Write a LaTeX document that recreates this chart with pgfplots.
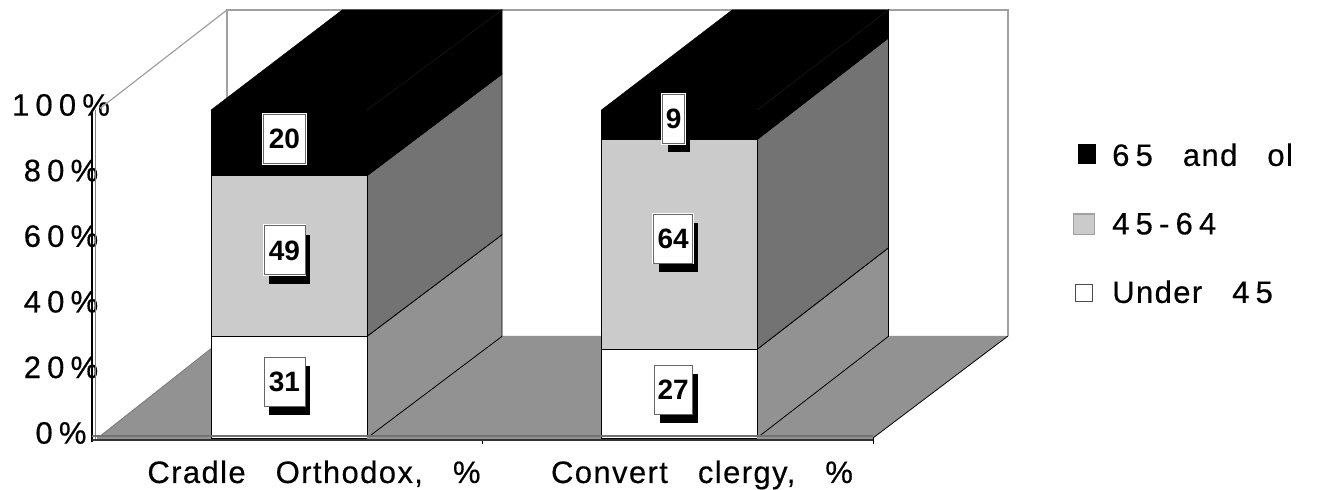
\documentclass[border=0pt]{standalone}
\usepackage{fontspec}
\usepackage{pgfplots}
\pgfplotsset{compat=1.18}
\usetikzlibrary{shadows}
\setmainfont{Liberation Sans}
% Wide tracking for figures, light tracking for words
\newfontfamily\digitfont[LetterSpace=20,FakeBold=0.4]{Liberation Sans}
\newfontfamily\wordfont[LetterSpace=4.5,FakeBold=0.4]{Liberation Sans}
\newcommand{\gap}{\hspace{15pt}}
\definecolor{floorgray}{HTML}{929292}
\definecolor{darkside}{HTML}{737373}
\definecolor{midgray}{HTML}{CBCBCB}
\definecolor{wallgray}{HTML}{A0A0A0}
\begin{document}
\begin{tikzpicture}
\path[use as bounding box] (-48.5pt,-26pt) rectangle ++(659.5pt,245pt);
\begin{axis}[
  scale only axis, width=388pt, height=164pt,
  xmin=0, xmax=2, ymin=0, ymax=100,
  clip=false,
  axis line style={draw=none},
  xtick pos=bottom, ytick pos=left, tick align=outside,
  xtick={0.5,1.5},
  xticklabels={{\wordfont Cradle\gap Orthodox,\gap\%},{\wordfont Convert\gap clergy,\gap\%}},
  minor xtick={-0.013,0.993,2},
  minor tick length=3pt,
  minor x tick style={black,line width=0.4pt},
  major x tick style={draw=none},
  major tick length=0pt,
  ytick={0,20,40,60,80,100},
  yticklabels={0\%,20\%,40\%,60\%,80\%,100\%},
  ytick style={draw=none},
  xticklabel style={font=\fontsize{15.5}{17}\selectfont, anchor=base, xshift=11.5pt, yshift=-22.5pt},
  yticklabel style={font=\fontsize{15.5}{17}\selectfont\digitfont, anchor=center, xshift=-18pt, yshift=2.5pt},
  legend style={at={(axis cs:2.515,89.6)}, anchor=north west, draw=none, fill=none,
    row sep=23.75pt, font=\fontsize{15.5}{17}\selectfont, inner sep=0pt,
    nodes={inner sep=0pt, text height=10pt, text depth=0pt}},
  legend cell align=left,
]
% Floor and back wall
\addplot[forget plot, fill=floorgray, draw=none] coordinates {(0,0) (0.335,31.1) (2.348,31.1) (2,0)} -- cycle;
\addplot[forget plot, draw=black, line width=0.4pt] coordinates {(2,0) (2.348,31.1)};
\addplot[forget plot, draw=gray, line width=0.4pt] coordinates {(0.008,0.5) (0.335,31.1)};
\addplot[forget plot, draw=wallgray, line width=0.6pt] coordinates {(0.335,31.1) (0.335,130.5) (2.348,130.5) (2.348,31.1)};
\addplot[forget plot, draw=wallgray, line width=0.6pt] coordinates {(0.008,100.5) (0.335,130.5)};
% Vertical axis: double rule
\addplot[forget plot, draw=black, line width=0.6pt] coordinates {(-0.013,100) (-0.013,-1.2)};
\addplot[forget plot, draw=gray, line width=0.5pt] coordinates {(-0.003,100) (-0.003,-0.6)};

% Cradle Orthodox: side faces
\addplot[forget plot, fill=floorgray, draw=black, line width=0.4pt] coordinates {(0.696,0) (1.044,31) (1.044,62) (0.696,31)} -- cycle;
\addplot[forget plot, fill=darkside, draw=black, line width=0.4pt] coordinates {(0.696,31) (1.044,62) (1.044,111) (0.696,80)} -- cycle;
\addplot[forget plot, fill=black, draw=black, line width=0.4pt] coordinates {(0.696,80) (1.044,111) (1.044,130.5) (0.696,100)} -- cycle;
% Cradle Orthodox: top and front faces
\addplot[forget plot, fill=black, draw=black, line width=0.2pt] coordinates {(0.294,100) (0.632,130.5) (1.044,130.5) (0.696,100)} -- cycle;
\addplot[forget plot, fill=white, draw=black, line width=0.4pt] coordinates {(0.294,0) (0.696,0) (0.696,31) (0.294,31)} -- cycle;
\addplot[forget plot, fill=midgray, draw=black, line width=0.4pt] coordinates {(0.294,31) (0.696,31) (0.696,80) (0.294,80)} -- cycle;
\addplot[forget plot, fill=black, draw=black, line width=0.4pt] coordinates {(0.294,80) (0.696,80) (0.696,100) (0.294,100)} -- cycle;
\addplot[forget plot, draw=black!82, line width=0.1pt] coordinates {(0.696,100) (1.044,130.5)};

% Convert clergy: side faces
\addplot[forget plot, fill=floorgray, draw=black, line width=0.4pt] coordinates {(1.701,0) (2.040,31) (2.040,58) (1.701,27)} -- cycle;
\addplot[forget plot, fill=darkside, draw=black, line width=0.4pt] coordinates {(1.701,27) (2.040,58) (2.040,122) (1.701,91)} -- cycle;
\addplot[forget plot, fill=black, draw=black, line width=0.4pt] coordinates {(1.701,91) (2.040,122) (2.040,130.5) (1.701,100)} -- cycle;
% Convert clergy: top and front faces
\addplot[forget plot, fill=black, draw=black, line width=0.2pt] coordinates {(1.300,100) (1.637,130.5) (2.040,130.5) (1.701,100)} -- cycle;
\addplot[forget plot, fill=white, draw=black, line width=0.4pt] coordinates {(1.300,0) (1.701,0) (1.701,27) (1.300,27)} -- cycle;
\addplot[forget plot, fill=midgray, draw=black, line width=0.4pt] coordinates {(1.300,27) (1.701,27) (1.701,91) (1.300,91)} -- cycle;
\addplot[forget plot, fill=black, draw=black, line width=0.4pt] coordinates {(1.300,91) (1.701,91) (1.701,100) (1.300,100)} -- cycle;
\addplot[forget plot, draw=black!82, line width=0.1pt] coordinates {(1.701,100) (2.040,130.5)};

% Front lip of the floor
\addplot[forget plot, draw=darkside, line width=0.7pt] coordinates {(-0.013,0.6) (2,0.6)};
\addplot[forget plot, draw=black!80, line width=0.6pt] coordinates {(-0.013,-0.6) (2,-0.6)};
\addplot[forget plot, draw=floorgray, line width=0.9pt] coordinates {(0,0) (0.294,0)};
\addplot[forget plot, draw=floorgray, line width=0.9pt] coordinates {(0.696,0) (1.300,0)};
\addplot[forget plot, draw=floorgray, line width=0.9pt] coordinates {(1.701,0) (2,0)};

% Value boxes
\tikzset{
  valbox/.style={draw=black!60, fill=white, line width=0.4pt, inner sep=0pt,
    minimum height=24.5pt, font=\fontsize{14}{15}\bfseries\selectfont,
    general shadow={fill=black, shadow xshift=2.7pt, shadow yshift=-4.5pt}}
}
\node[valbox, minimum width=20.5pt] at (axis cs:0.483,17.2) {31};
\node[valbox, minimum width=20.5pt, preaction={draw=white,line width=1.4pt}] at (axis cs:0.483,57.2) {49};
\node[valbox, minimum width=21pt, preaction={draw=white,line width=1.4pt}] at (axis cs:0.483,91.2) {20};
\node[valbox, minimum width=19pt] at (axis cs:1.485,14.8) {27};
\node[valbox, minimum width=19.5pt, preaction={draw=white,line width=1.4pt}] at (axis cs:1.485,60.8) {64};
\node[valbox, minimum width=11pt, preaction={draw=white,line width=1.4pt}] at (axis cs:1.486,97.3) {9};

% Legend
\addlegendimage{legend image code/.code={\path[draw=none,fill=none] (0,0) rectangle (19.5pt,0.1pt); \fill[black] (0,-5.5pt) rectangle (11pt,5.5pt);}}
\addlegendentry{{\digitfont 65}\gap{\wordfont and}\gap{\wordfont ol}}
\addlegendimage{legend image code/.code={\path[draw=none,fill=none] (0,0) rectangle (19.5pt,0.1pt); \draw[draw=wallgray, fill=midgray, line width=0.6pt] (0.3pt,-5.2pt) rectangle (10.7pt,5.2pt);}}
\addlegendentry{{\digitfont 45-64}}
\addlegendimage{legend image code/.code={\path[draw=none,fill=none] (0,0) rectangle (19.5pt,0.1pt); \draw[draw=black!70, fill=white, line width=0.4pt] (1.2pt,-4.2pt) rectangle (9.8pt,4.2pt);}}
\addlegendentry{{\wordfont Under}\gap{\digitfont 45}}
\end{axis}
\end{tikzpicture}
\end{document}
